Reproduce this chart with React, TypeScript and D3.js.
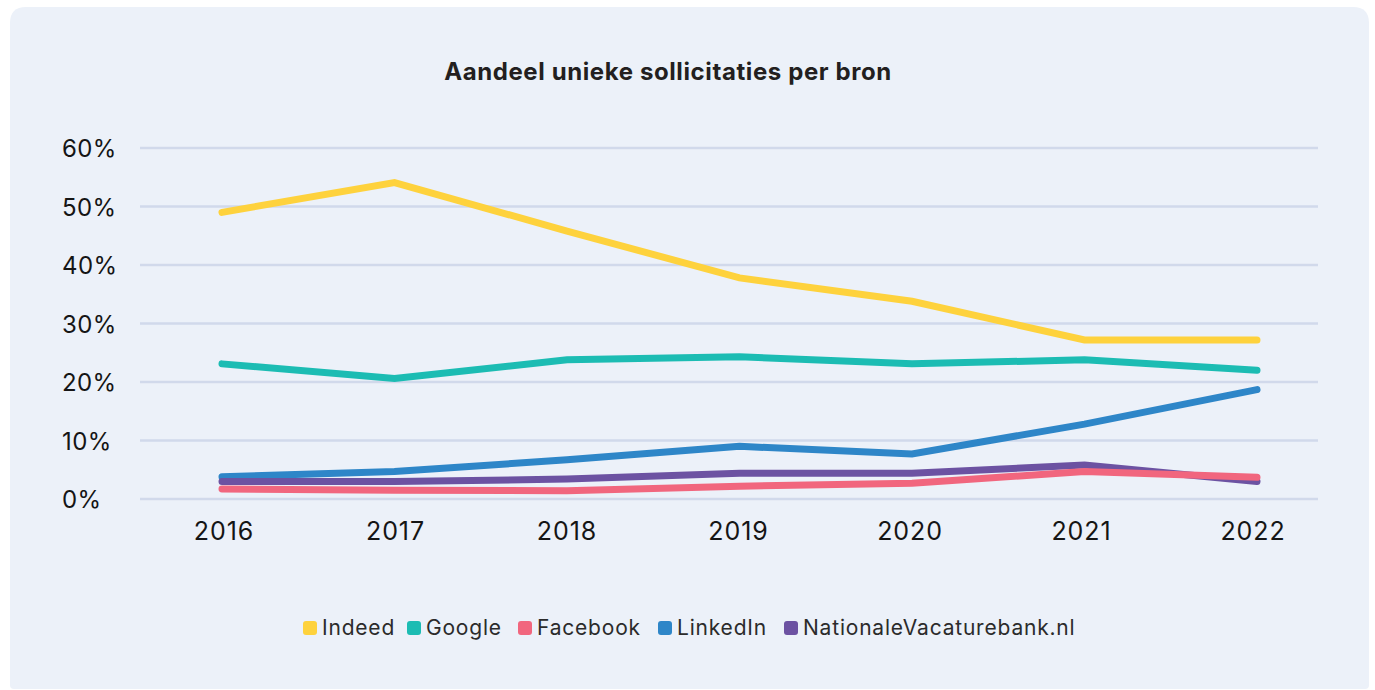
import React from "react";
import * as d3 from "d3";

const years = ["2016", "2017", "2018", "2019", "2020", "2021", "2022"];
const indeed = [49.0, 54.1, 45.8, 37.8, 33.8, 27.2, 27.2];
const google = [23.1, 20.6, 23.8, 24.3, 23.1, 23.8, 22.0];
const facebook = [1.7, 1.5, 1.4, 2.2, 2.7, 4.7, 3.7];
const linkedin = [3.8, 4.7, 6.7, 9.0, 7.7, 12.8, 18.7];
const nvb = [3.0, 3.0, 3.4, 4.4, 4.4, 5.8, 3.0];
const yTicks = [0, 10, 20, 30, 40, 50, 60];

const seriesNames = ["Indeed", "Google", "Facebook", "LinkedIn", "NationaleVacaturebank.nl"];
const seriesValues = [indeed, google, facebook, linkedin, nvb];
const seriesColors = ["#FED23D", "#1CBCB3", "#F1667E", "#2E86C8", "#6C52A2"];
const drawOrder = [0, 1, 3, 4, 2];

const W = 1375;
const H = 690;
const FONT = "Inter, 'Noto Sans', sans-serif";

export default function App() {
  const x = d3.scalePoint<string>().domain(years).range([222, 1257]);
  const xLabel = d3.scalePoint<string>().domain(years).range([224, 1253]);
  const y = d3.scaleLinear().domain([0, 60]).range([499, 148]);
  const line = d3
    .line<number>()
    .x((_, i) => x(years[i]) as number)
    .y((d) => y(d));

  const panel = `M10,23 Q10,7 26,7 L1353,7 Q1369,7 1369,23 L1369,685 Q1369,689 1365,689 L14,689 Q10,689 10,685 Z`;

  const legendX = [303, 407, 518, 658, 784];

  return (
    <svg
      width={W}
      height={H}
      style={{ position: "absolute", left: 0, top: 0, display: "block" }}
      fontFamily={FONT}
    >
      <rect x={0} y={0} width={W} height={H} fill="#ffffff" />
      <path d={panel} fill="#ECF1F9" />
      <text
        x={668}
        y={80}
        textAnchor="middle"
        fontSize={24}
        fontWeight={700}
        letterSpacing={0.6}
        fill="#231F20"
      >
        Aandeel unieke sollicitaties per bron
      </text>
      {yTicks.map((t) => (
        <g key={t}>
          <line x1={140} x2={1318} y1={y(t)} y2={y(t)} stroke="#D1D9EB" strokeWidth={2.5} />
          <text x={62} y={y(t) + 9} fontSize={24} letterSpacing={0.4} fill="#151515">
            {t}%
          </text>
        </g>
      ))}
      {years.map((yr) => (
        <text
          key={yr}
          x={xLabel(yr) as number}
          y={540}
          textAnchor="middle"
          fontSize={25}
          letterSpacing={0.9}
          fill="#151515"
        >
          {yr}
        </text>
      ))}
      {drawOrder.map((i) => (
        <path
          key={seriesNames[i]}
          d={line(seriesValues[i]) as string}
          fill="none"
          stroke={seriesColors[i]}
          strokeWidth={7}
          strokeLinecap="round"
          strokeLinejoin="miter"
        />
      ))}
      {seriesNames.map((n, i) => (
        <g key={n}>
          <rect x={legendX[i]} y={621} width={14} height={14} rx={3} fill={seriesColors[i]} />
          <text x={legendX[i] + 19} y={635} fontSize={21} letterSpacing={0.8} fill="#2B2B2B">
            {n}
          </text>
        </g>
      ))}
    </svg>
  );
}
